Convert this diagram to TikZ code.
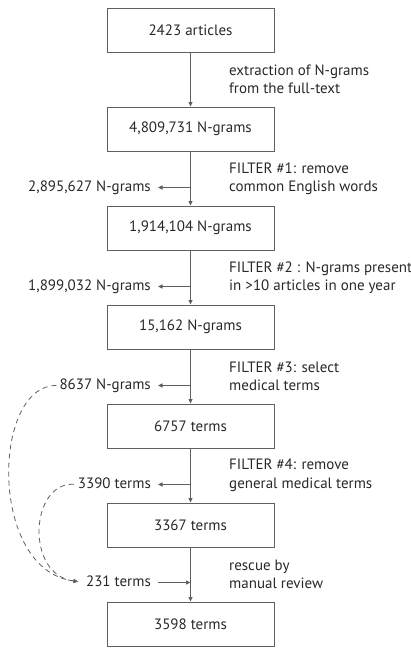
\documentclass[tikz,border=0pt]{standalone}
\usepackage{fontspec}
\setmainfont{PT Sans}
\definecolor{flowgrey}{RGB}{95,95,95}
\definecolor{textgrey}{RGB}{40,40,40}
\usetikzlibrary{arrows.meta, positioning, calc}

\begin{document}
\begin{tikzpicture}[x=1pt, y=1pt, node distance=54pt,
    every node/.style={font=\fontsize{15}{18.5}\selectfont, text=textgrey},
    stage/.style={draw=flowgrey, line width=1pt, minimum width=167pt, minimum height=44pt, inner sep=0pt},
    note/.style={anchor=west, align=left, inner sep=0pt},
    drop/.style={anchor=east, inner sep=0pt, text height=11pt, text depth=3pt},
    flow/.style={flowgrey, line width=0.8pt, -{Triangle[length=4.5pt, width=4pt]}},
    side/.style={flow, shorten >=7pt},
    rescue/.style={flow, dashed, dash pattern=on 5pt off 4pt}]
        \useasboundingbox (0,0) rectangle (411,-648);

        % Stages
        \node[stage] (b1) at (190.5,-30) {2423 articles};
        \node[stage, below=of b1] (b2) {4,809,731 N-grams};
        \node[stage, below=of b2] (b3) {1,914,104 N-grams};
        \node[stage, below=of b3] (b4) {15,162 N-grams};
        \node[stage, below=of b4] (b5) {6757 terms};
        \node[stage, below=of b5] (b6) {3367 terms};
        \node[stage, below=of b6] (b7) {3598 terms};

        % Steps
        \node[note] (n1) at ($(b1)!0.5!(b2)+(38.5,0)$) {extraction of N-grams\\from the full-text};
        \node[note] (n2) at ($(b2)!0.5!(b3)+(38.5,0)$) {FILTER \#1: remove\\common English words};
        \node[note] (n3) at ($(b3)!0.5!(b4)+(38.5,0)$) {FILTER \#2 : N-grams present\\in >10 articles in one year};
        \node[note] (n4) at ($(b4)!0.5!(b5)+(38.5,0)$) {FILTER \#3: select\\medical terms};
        \node[note] (n5) at ($(b5)!0.5!(b6)+(38.5,0)$) {FILTER \#4: remove\\general medical terms};
        \node[note] (n6) at ($(b6)!0.5!(b7)+(38.5,0)$) {rescue by\\manual review};

        % Removed and rescued
        \coordinate (j1) at ($(b3.north)+(0,18)$);
        \coordinate (j2) at ($(b4.north)+(0,18)$);
        \coordinate (j3) at ($(b5.north)+(0,18)$);
        \coordinate (j4) at ($(b6.north)+(0,18)$);
        \coordinate (j5) at ($(b7.north)+(0,19)$);
        \node[drop, left=39.5pt of j1] (s1) {2,895,627 N-grams};
        \node[drop, left=39.5pt of j2] (s2) {1,899,032 N-grams};
        \node[drop, left=39.5pt of j3] (s3) {8637 N-grams};
        \node[drop, left=39.5pt of j4] (s4) {3390 terms};
        \node[drop, left=39.5pt of j5] (s5) {231 terms};

        % Flow
        \draw[flow] (b1) -- (b2);
        \draw[flow] (b2) -- (b3);
        \draw[flow] (b3) -- (b4);
        \draw[flow] (b4) -- (b5);
        \draw[flow] (b5) -- (b6);
        \draw[flow] (b6) -- (b7);
        \draw[side] (j1) -- (s1);
        \draw[side] (j2) -- (s2);
        \draw[side] (j3) -- (s3);
        \draw[side] (j4) -- (s4);
        \draw[flow, shorten <=7pt] (s5) -- (j5);
        \draw[rescue, shorten <=3pt, shorten >=8pt] (s3.west) .. controls (-8,-385) and (-12,-570) .. (s5.west);
        \draw[rescue, shorten <=4pt, shorten >=8pt] (s4.west) .. controls (30,-482) and (25,-575) .. (s5.west);
\end{tikzpicture}
\end{document}
